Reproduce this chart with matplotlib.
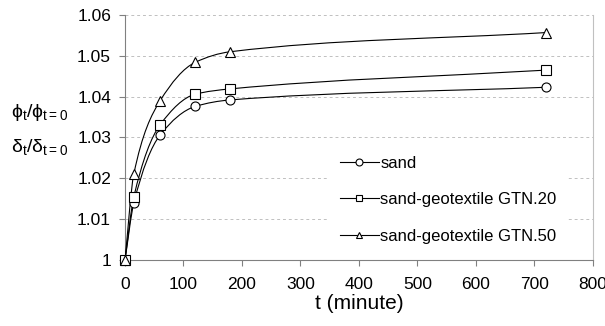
import numpy as np
import matplotlib
matplotlib.use("Agg")
import matplotlib.pyplot as plt
from matplotlib.path import Path
from matplotlib.patches import PathPatch
from matplotlib.lines import Line2D

plt.rcParams['font.family'] = ['Liberation Sans', 'DejaVu Sans']
plt.rcParams['mathtext.fontset'] = 'custom'
plt.rcParams['mathtext.rm'] = 'Liberation Sans'
plt.rcParams['mathtext.it'] = 'Liberation Sans'
plt.rcParams['mathtext.fallback'] = 'stixsans'

# data
t = [0, 15, 60, 120, 180, 720]
sand = [1.0, 1.0139, 1.0306, 1.0376, 1.0392, 1.0423]
gtn20 = [1.0, 1.0154, 1.0331, 1.0406, 1.0419, 1.0465]
gtn50 = [1.0, 1.021, 1.039, 1.0484, 1.051, 1.0557]
labels = ["sand", "sand-geotextile GTN.20", "sand-geotextile GTN.50"]
markers = ["o", "s", "^"]


def smooth_path(x, y):
    # monotone cubic (pchip-like) bezier path through the points
    x = np.asarray(x, float)
    y = np.asarray(y, float)
    h = np.diff(x)
    d = np.diff(y) / h
    m = np.zeros_like(y)
    for i in range(1, len(x) - 1):
        if d[i - 1] * d[i] > 0:
            w1 = 2 * h[i] + h[i - 1]
            w2 = h[i] + 2 * h[i - 1]
            m[i] = (w1 + w2) / (w1 / d[i - 1] + w2 / d[i])
    m[0] = d[0]
    m[-1] = d[-1]
    verts = [(x[0], y[0])]
    codes = [Path.MOVETO]
    for i in range(len(x) - 1):
        verts += [(x[i] + h[i] / 3, y[i] + m[i] * h[i] / 3),
                  (x[i + 1] - h[i] / 3, y[i + 1] - m[i + 1] * h[i] / 3),
                  (x[i + 1], y[i + 1])]
        codes += [Path.CURVE4] * 3
    return Path(verts, codes)


fig = plt.figure(figsize=(6.05, 3.26), dpi=100)
ax = fig.add_axes([0.2066, 0.2025, 0.7735, 0.7515])

handles = []
for ys, mk, lab in zip([sand, gtn20, gtn50], markers, labels):
    ax.add_patch(PathPatch(smooth_path(t, ys), facecolor='none',
                           edgecolor='black', lw=0.8, zorder=3))
    ms = 7 if mk == "^" else 6.5
    ax.plot(t, ys, linestyle='none', marker=mk, ms=ms, mfc='white',
            mec='black', mew=0.8, zorder=4, clip_on=False)
    handles.append(Line2D([], [], color='black', lw=0.8, marker=mk, ms=5,
                          mfc='white', mec='black', mew=0.8, label=lab))

ax.set_xlim(0, 800)
ax.set_ylim(1.0, 1.06)
ax.set_xticks(range(0, 801, 100))
ax.set_yticks([1.0, 1.01, 1.02, 1.03, 1.04, 1.05, 1.06])
ax.set_yticklabels(["1", "1.01", "1.02", "1.03", "1.04", "1.05", "1.06"])
ax.tick_params(labelsize=12.5, color='#808080', length=4, width=0.8)
ax.tick_params(axis='x', pad=8)
ax.tick_params(axis='y', pad=6)
ax.yaxis.grid(True, linestyle=(0, (3, 3)), color='#c0c0c0', lw=0.7)
ax.set_axisbelow(True)
for s in ['left', 'bottom']:
    ax.spines[s].set_color('#808080')
ax.spines['right'].set_color('#c0c0c0')
ax.spines['top'].set_visible(False)

ax.set_xlabel("t (minute)", fontsize=15, labelpad=2)
fig.text(0.066, 0.656, r"$\mathrm{\phi_t/\phi_{t=0}}$", fontsize=14, ha='center', va='center')
fig.text(0.066, 0.549, r"$\mathrm{\delta_t/\delta_{t=0}}$", fontsize=14, ha='center', va='center')

leg = ax.legend(handles=handles, loc='lower right', bbox_to_anchor=(0.965, -0.016),
                frameon=True, fancybox=False, edgecolor='none', facecolor='white',
                framealpha=1, fontsize=12, labelspacing=1.3, handlelength=2.3,
                handletextpad=0.1, borderpad=0.7)

fig.savefig("out.png", dpi=100)
